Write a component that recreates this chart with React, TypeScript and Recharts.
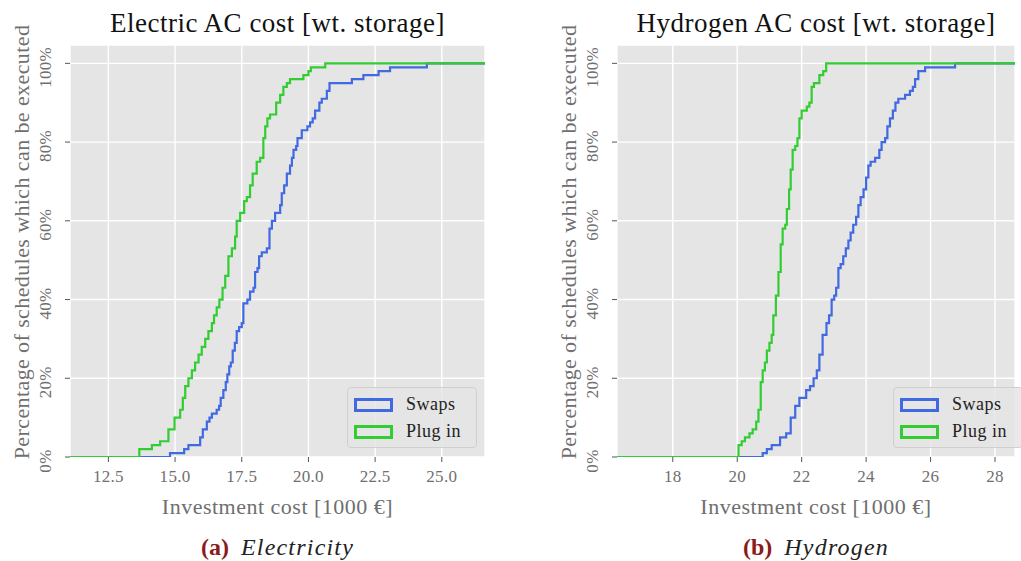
import { LineChart, Line, XAxis, YAxis, CartesianGrid } from "recharts";

const FONT = '"Liberation Serif", "DejaVu Serif", serif';
const SWAPS_COLOR = "#4169e1";
const PLUG_COLOR = "#32cd32";
const LABEL_GREY = "#6f6f6f";

const PCT_TICKS = [0, 20, 40, 60, 80, 100];
const ELEC_TICKS = [12.5, 15, 17.5, 20, 22.5, 25];
const HYDRO_TICKS = [18, 20, 22, 24, 26, 28];
const ELEC_DOMAIN = [11.06, 26.62];
const HYDRO_DOMAIN = [16.27, 28.62];

// electricity, swaps
const elecSwapsCost = [
  14.81, 15.34, 15.5, 15.94, 16.04, 16.19, 16.29, 16.38, 16.56, 16.65, 16.71, 16.81, 16.9, 16.96,
  17.03, 17.09, 17.16, 17.24, 17.31, 17.4, 17.5, 17.56, 17.71, 17.81, 17.94, 18.0, 18.09, 18.15,
  18.25, 18.44, 18.54, 18.63, 18.75, 18.94, 19.0, 19.09, 19.19, 19.31, 19.38, 19.44, 19.54, 19.59,
  19.75, 19.96, 20.06, 20.16, 20.25, 20.41, 20.5, 20.69, 20.79, 21.63, 22.06, 22.63, 23.06, 24.44,
];
const elecSwapsPct = [
  1, 2, 3, 5, 7, 9, 10, 11, 12, 13, 15, 17, 19, 21, 23, 24, 27, 29, 32, 33, 34, 39, 40, 42, 43, 47,
  48, 51, 52, 53, 58, 60, 62, 64, 67, 69, 72, 74, 76, 78, 79, 81, 83, 84, 85, 86, 88, 90, 91, 93, 95,
  96, 97, 98, 99, 100,
];

// electricity, plug in
const elecPlugCost = [
  13.66, 14.13, 14.44, 14.75, 14.98, 15.19, 15.29, 15.38, 15.5, 15.63, 15.75, 15.88, 16.0, 16.13,
  16.25, 16.38, 16.46, 16.56, 16.66, 16.78, 16.88, 17.0, 17.13, 17.25, 17.31, 17.44, 17.59, 17.69,
  17.81, 17.91, 18.06, 18.19, 18.31, 18.38, 18.46, 18.56, 18.79, 18.94, 19.06, 19.19, 19.31, 19.81,
  20.0, 20.09, 20.63,
];
const elecPlugPct = [
  2, 3, 4, 7, 10, 12, 15, 18, 20, 22, 24, 26, 28, 30, 32, 34, 36, 38, 40, 43, 46, 51, 53, 56, 60, 62,
  65, 66, 69, 72, 75, 76, 81, 84, 86, 87, 90, 92, 94, 95, 96, 97, 98, 99, 100,
];

// hydrogen, swaps
const hydroSwapsCost = [
  20.79, 20.92, 21.07, 21.33, 21.52, 21.66, 21.8, 21.93, 22.14, 22.26, 22.37, 22.47, 22.55, 22.65,
  22.77, 22.85, 22.93, 23.01, 23.07, 23.14, 23.21, 23.29, 23.37, 23.45, 23.52, 23.6, 23.69, 23.76,
  23.83, 23.92, 24.0, 24.07, 24.14, 24.28, 24.41, 24.48, 24.59, 24.66, 24.74, 24.83, 24.91, 25.0,
  25.21, 25.36, 25.45, 25.52, 25.62, 25.83, 26.76,
];
const hydroSwapsPct = [
  1, 2, 3, 5, 6, 10, 13, 15, 17, 18, 20, 22, 26, 31, 34, 36, 40, 41, 43, 48, 49, 51, 53, 55, 57, 59,
  61, 64, 66, 68, 71, 74, 75, 76, 78, 80, 81, 84, 86, 88, 90, 91, 92, 93, 94, 96, 98, 99, 100,
];

// hydrogen, plug in
const hydroPlugCost = [
  20.04, 20.14, 20.24, 20.38, 20.48, 20.59, 20.66, 20.73, 20.79, 20.86, 20.92, 21.0, 21.07, 21.12,
  21.2, 21.28, 21.35, 21.41, 21.49, 21.54, 21.61, 21.66, 21.72, 21.8, 21.87, 21.93, 22.0, 22.16,
  22.24, 22.31, 22.38, 22.55, 22.67, 22.76,
];
const hydroPlugPct = [
  3, 4, 5, 6, 7, 9, 12, 19, 22, 24, 27, 29, 31, 36, 41, 47, 54, 58, 59, 63, 68, 73, 78, 79, 81, 86,
  88, 89, 90, 94, 95, 97, 98, 100,
];

type Pt = { x: number; y: number };

// ecdf steps, extended to both edges of the axis like matplotlib does
function ecdf(cost: number[], pct: number[], domain: number[]): Pt[] {
  const pts = cost.map((c, i) => ({ x: c, y: pct[i] }));
  return [{ x: domain[0], y: 0 }, ...pts, { x: domain[1], y: 100 }];
}

const PctTick = (props: any) => {
  const { x, y, payload } = props;
  return (
    <text
      transform={`translate(${x - 18},${y + 4}) rotate(-90)`}
      textAnchor="middle"
      dominantBaseline="central"
      fontFamily={FONT}
      fontSize={17}
      letterSpacing={0.3}
      fill={LABEL_GREY}
    >
      {payload.value}%
    </text>
  );
};

function LegendBox({ left, top }: { left: number; top: number }) {
  const item = (color: string, label: string) => (
    <div style={{ display: "flex", alignItems: "center", height: 27 }}>
      <div
        style={{
          width: 33,
          height: 8,
          border: `3px solid ${color}`,
          marginRight: 13,
        }}
      />
      <span style={{ fontSize: 18, letterSpacing: 0.5, color: "#222" }}>{label}</span>
    </div>
  );
  return (
    <div
      style={{
        position: "absolute",
        left,
        top,
        width: 130,
        height: 61,
        boxSizing: "border-box",
        padding: "3px 0 0 6px",
        background: "rgba(229,229,229,0.85)",
        border: "1px solid #cfcfcf",
        borderRadius: 4,
      }}
    >
      {item(SWAPS_COLOR, "Swaps")}
      {item(PLUG_COLOR, "Plug in")}
    </div>
  );
}

type PanelProps = {
  left: number;
  width: number;
  plotLeft: number;
  plotRight: number;
  domain: number[];
  ticks: number[];
  fmt: (v: number) => string;
  swaps: Pt[];
  plug: Pt[];
  title: string;
  tag: string;
  caption: string;
  legendLeft: number;
};

function Panel(p: PanelProps) {
  const center = (p.plotLeft + p.plotRight) / 2;
  return (
    <div style={{ position: "absolute", left: p.left, top: 0, width: p.width, height: 561 }}>
      <LineChart
        width={p.width}
        height={561}
        margin={{ top: 45, left: p.plotLeft - 60, right: p.width - p.plotRight, bottom: 561 - 457 - 30 }}
      >
        <CartesianGrid fill="#e5e5e5" fillOpacity={1} stroke="#ffffff" strokeWidth={1.4} />
        <XAxis
          type="number"
          dataKey="x"
          domain={p.domain}
          ticks={p.ticks}
          allowDataOverflow
          height={30}
          tickFormatter={p.fmt}
          axisLine={false}
          tickLine={{ stroke: "#555" }}
          tickSize={5}
          tickMargin={8}
          tick={{ fontFamily: FONT, fontSize: 17, fill: LABEL_GREY, letterSpacing: 0.3 }}
        />
        <YAxis
          type="number"
          domain={[0, 104.66]}
          ticks={PCT_TICKS}
          allowDataOverflow
          width={60}
          axisLine={false}
          tickLine={{ stroke: "#555" }}
          tickSize={5}
          tick={<PctTick />}
        />
        <Line
          data={p.swaps}
          dataKey="y"
          type="stepAfter"
          stroke={SWAPS_COLOR}
          strokeWidth={2.2}
          dot={false}
          isAnimationActive={false}
        />
        <Line
          data={p.plug}
          dataKey="y"
          type="stepAfter"
          stroke={PLUG_COLOR}
          strokeWidth={2.2}
          dot={false}
          isAnimationActive={false}
        />
      </LineChart>

      <div
        style={{
          position: "absolute",
          left: center - 250,
          width: 500,
          top: 8,
          textAlign: "center",
          fontSize: 27,
          letterSpacing: 0.5,
          lineHeight: "30px",
          color: "#111",
        }}
      >
        {p.title}
      </div>
      <div
        style={{
          position: "absolute",
          left: p.plotLeft - 48,
          top: 242,
          transform: "translate(-50%, -50%) rotate(-90deg)",
          whiteSpace: "nowrap",
          fontSize: 22,
          letterSpacing: 0.4,
          color: LABEL_GREY,
        }}
      >
        Percentage of schedules which can be executed
      </div>
      <div
        style={{
          position: "absolute",
          left: center - 200,
          width: 400,
          top: 494,
          textAlign: "center",
          fontSize: 22,
          letterSpacing: 0.5,
          lineHeight: "26px",
          color: LABEL_GREY,
        }}
      >
        Investment cost [1000 €]
      </div>
      <div
        style={{
          position: "absolute",
          left: center - 200,
          width: 400,
          top: 533,
          textAlign: "center",
          fontSize: 24,
          lineHeight: "28px",
          color: "#222",
        }}
      >
        <span style={{ fontWeight: "bold", color: "#8b1a1a" }}>({p.tag})</span>
        <span style={{ display: "inline-block", width: 12 }} />
        <i style={{ letterSpacing: 1.2 }}>{p.caption}</i>
      </div>
      <LegendBox left={p.legendLeft} top={387} />
    </div>
  );
}

export default function App() {
  return (
    <div
      style={{
        position: "absolute",
        left: 0,
        top: 0,
        width: 1021,
        height: 561,
        background: "#fff",
        fontFamily: FONT,
      }}
    >
      <Panel
        left={0}
        width={500}
        plotLeft={70}
        plotRight={485}
        domain={ELEC_DOMAIN}
        ticks={ELEC_TICKS}
        fmt={(v) => v.toFixed(1)}
        swaps={ecdf(elecSwapsCost, elecSwapsPct, ELEC_DOMAIN)}
        plug={ecdf(elecPlugCost, elecPlugPct, ELEC_DOMAIN)}
        title="Electric AC cost [wt. storage]"
        tag="a"
        caption="Electricity"
        legendLeft={347}
      />
      <Panel
        left={540}
        width={481}
        plotLeft={77}
        plotRight={475}
        domain={HYDRO_DOMAIN}
        ticks={HYDRO_TICKS}
        fmt={(v) => String(v)}
        swaps={ecdf(hydroSwapsCost, hydroSwapsPct, HYDRO_DOMAIN)}
        plug={ecdf(hydroPlugCost, hydroPlugPct, HYDRO_DOMAIN)}
        title="Hydrogen AC cost [wt. storage]"
        tag="b"
        caption="Hydrogen"
        legendLeft={353}
      />
    </div>
  );
}
